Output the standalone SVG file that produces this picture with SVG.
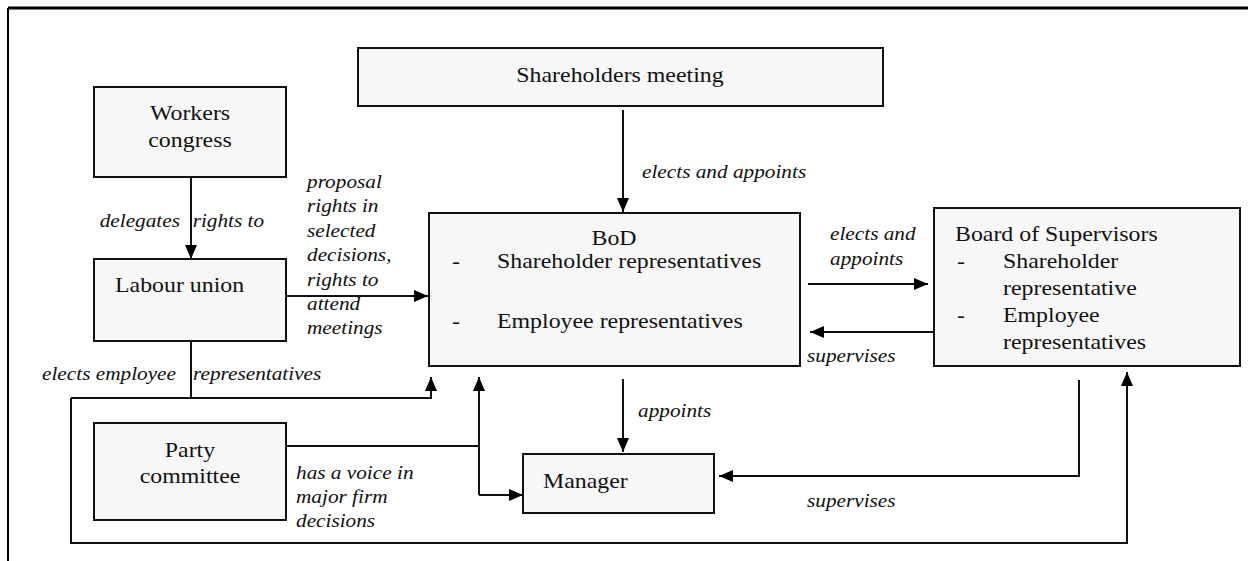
<svg xmlns="http://www.w3.org/2000/svg" width="1248" height="561" viewBox="0 0 1248 561" font-family="Liberation Serif, Times New Roman, serif">
<style>
.box{fill:#f7f7f7;stroke:#111;stroke-width:2}
text{font-family:"Liberation Serif","Times New Roman",serif}
.t{font-size:21.3px;fill:#111}
.i{font-size:19px;font-style:italic;fill:#111}
.c{text-anchor:middle}
.ln{fill:none;stroke:#111;stroke-width:2}
.frame{stroke:#000;fill:none}
</style>
<defs>
<marker id="arr" markerUnits="userSpaceOnUse" markerWidth="14" markerHeight="12" refX="14" refY="6" orient="auto">
<path d="M0,0 L14,6 L0,12 z" fill="#000"/>
</marker>
</defs>
<rect width="1248" height="561" fill="#fff"/>
<g id="frame">
<line class="frame" x1="8" y1="8" x2="1248" y2="8" stroke-width="3"/>
<line class="frame" x1="8" y1="8" x2="8" y2="561" stroke-width="2"/>
</g>
<g id="connectors">
<path class="ln" d="M191,177 V259" marker-end="url(#arr)"/>
<path class="ln" d="M623,110 V212" marker-end="url(#arr)"/>
<path class="ln" d="M286,296 H428" marker-end="url(#arr)"/>
<path class="ln" d="M808,284 H928" marker-end="url(#arr)"/>
<path class="ln" d="M934,332 H810" marker-end="url(#arr)"/>
<path class="ln" d="M191,341 V398"/>
<path class="ln" d="M71,398 H431 V377" marker-end="url(#arr)"/>
<path class="ln" d="M71,398 V543 H1127 V372" marker-end="url(#arr)"/>
<path class="ln" d="M286,446 H479"/>
<path class="ln" d="M479,495 V377" marker-end="url(#arr)"/>
<path class="ln" d="M479,495 H523" marker-end="url(#arr)"/>
<path class="ln" d="M623,379 V452" marker-end="url(#arr)"/>
<path class="ln" d="M1079,380 V476 H719" marker-end="url(#arr)"/>
<text class="i" transform="translate(0,227) scale(1.12,1)"><tspan x="89">delegates</tspan><tspan x="172">rights to</tspan></text>
<text class="i" transform="translate(307,188) scale(1.12,1)"><tspan x="0" y="0">proposal</tspan><tspan x="0" y="24.4">rights in</tspan><tspan x="0" y="48.8">selected</tspan><tspan x="0" y="73.2">decisions,</tspan><tspan x="0" y="97.6">rights to</tspan><tspan x="0" y="122">attend</tspan><tspan x="0" y="146.4">meetings</tspan></text>
<text class="i" transform="translate(642,178) scale(1.12,1)">elects and appoints</text>
<text class="i" transform="translate(830,240) scale(1.12,1)"><tspan x="0" y="0">elects and</tspan><tspan x="0" y="25">appoints</tspan></text>
<text class="i" transform="translate(807,362) scale(1.12,1)">supervises</text>
<text class="i" transform="translate(0,380) scale(1.12,1)"><tspan x="37.5">elects employee</tspan><tspan x="172.3">representatives</tspan></text>
<text class="i" transform="translate(296,479) scale(1.12,1)"><tspan x="0" y="0">has a voice in</tspan><tspan x="0" y="24">major firm</tspan><tspan x="0" y="48">decisions</tspan></text>
<text class="i" transform="translate(638,417) scale(1.12,1)">appoints</text>
<text class="i" transform="translate(807,507) scale(1.12,1)">supervises</text>
</g>
<g id="workers-congress">
<rect class="box" x="94" y="87" width="192" height="90"/>
<text class="t c" transform="translate(190,120) scale(1.12,1)"><tspan x="0" y="0">Workers</tspan><tspan x="0" y="27">congress</tspan></text>
</g>
<g id="shareholders-meeting">
<rect class="box" x="358" y="48" width="525" height="58"/>
<text class="t c" transform="translate(620,82) scale(1.12,1)">Shareholders meeting</text>
</g>
<g id="labour-union">
<rect class="box" x="94" y="259" width="192" height="82"/>
<text class="t" transform="translate(115,292) scale(1.12,1)">Labour union</text>
</g>
<g id="bod">
<rect class="box" x="429" y="213" width="371" height="153"/>
<text class="t c" transform="translate(614,245) scale(1.12,1)">BoD</text>
<text class="t" transform="translate(452,268) scale(1.12,1)">-</text>
<text class="t" transform="translate(497,268) scale(1.12,1)">Shareholder representatives</text>
<text class="t" transform="translate(452,328) scale(1.12,1)">-</text>
<text class="t" transform="translate(497,328) scale(1.12,1)">Employee representatives</text>
</g>
<g id="board-of-supervisors">
<rect class="box" x="934" y="208" width="306" height="158"/>
<text class="t" transform="translate(955,241) scale(1.12,1)">Board of Supervisors</text>
<text class="t" transform="translate(957,268) scale(1.12,1)">-</text>
<text class="t" transform="translate(1003,268) scale(1.12,1)">Shareholder</text>
<text class="t" transform="translate(1003,295) scale(1.12,1)">representative</text>
<text class="t" transform="translate(957,322) scale(1.12,1)">-</text>
<text class="t" transform="translate(1003,322) scale(1.12,1)">Employee</text>
<text class="t" transform="translate(1003,349) scale(1.12,1)">representatives</text>
</g>
<g id="party-committee">
<rect class="box" x="94" y="423" width="192" height="97"/>
<text class="t c" transform="translate(190,457) scale(1.12,1)"><tspan x="0" y="0">Party</tspan><tspan x="0" y="26">committee</tspan></text>
</g>
<g id="manager">
<rect class="box" x="523" y="454" width="191" height="59"/>
<text class="t" transform="translate(543,488) scale(1.12,1)">Manager</text>
</g>
</svg>
